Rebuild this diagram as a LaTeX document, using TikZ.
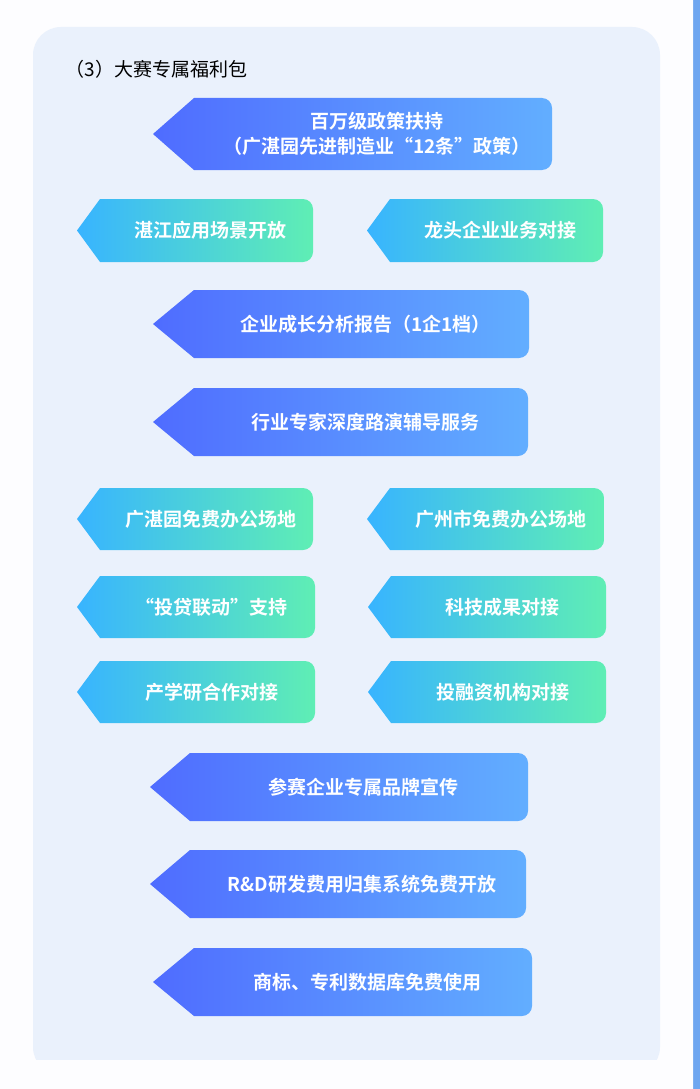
\documentclass[tikz,border=0pt]{standalone}
\usepackage{fontspec}
\setmainfont{Noto Sans CJK SC}
\newfontfamily\cjkbold{Noto Sans CJK SC Bold}
\definecolor{bA}{HTML}{4F6CFF}
\definecolor{bB}{HTML}{62AEFF}
\definecolor{gA}{HTML}{38B4FF}
\definecolor{gB}{HTML}{5FEEB4}
\definecolor{panel}{HTML}{EAF1FC}
\definecolor{edge}{HTML}{6EA6F0}
\tikzset{tagtext/.style={text=white,font=\cjkbold\fontsize{19}{25}\selectfont,align=center}}
% #1 name, #2 tip x, #3 body x, #4 right x, #5 top, #6 bottom, #7 left colour, #8 right colour, #9 text
\newcommand\mytag[9]{%
  \shade[left color=#7,right color=#8]
    (#2,{(#5+#6)/2}) -- (#3,#5) [rounded corners=10] -- (#4,#5) -- (#4,#6) [sharp corners] -- (#3,#6) -- cycle;
  \node[tagtext] (#1) at ({(#3+#4)/2+4},{(#5+#6)/2}) {#9};
}
\begin{document}
\begin{tikzpicture}[x=1pt,y=-1pt]
\useasboundingbox (0,0) rectangle (700,1089);
\fill[edge] (0,0) rectangle (700,1089);
\fill[white!97!blue!20!white, rounded corners=40] (-40,-40) rectangle (693,1089+40);
\fill[panel, rounded corners=28] (33,27) rectangle (660,1075);
\fill[white!97!blue!20!white] (20,1060) rectangle (680,1089);
\node[anchor=west,font=\fontsize{19}{23}\selectfont] (title) at (62,69) {（3）大赛专属福利包};
\mytag{t1}{153}{194}{552}{98}{170}{bA}{bB}{百万级政策扶持\\（广湛园先进制造业“12条”政策）}
\mytag{t2}{77}{100}{313}{199}{262}{gA}{gB}{湛江应用场景开放}
\mytag{t3}{367}{390}{603}{199}{262}{gA}{gB}{龙头企业业务对接}
\mytag{t4}{153}{194}{529}{290}{358}{bA}{bB}{企业成长分析报告（1企1档）}
\mytag{t5}{153}{194}{528}{388}{456}{bA}{bB}{行业专家深度路演辅导服务}
\mytag{t6}{77}{100}{313}{488}{550}{gA}{gB}{广湛园免费办公场地}
\mytag{t7}{367}{390}{604}{488}{550}{gA}{gB}{广州市免费办公场地}
\mytag{t8}{77}{100}{315}{576}{638}{gA}{gB}{“投贷联动”支持}
\mytag{t9}{368}{391}{606}{576}{638}{gA}{gB}{科技成果对接}
\mytag{t10}{77}{100}{315}{661}{723}{gA}{gB}{产学研合作对接}
\mytag{t11}{368}{391}{606}{661}{723}{gA}{gB}{投融资机构对接}
\mytag{t12}{150}{190}{528}{753}{821}{bA}{bB}{参赛企业专属品牌宣传}
\mytag{t13}{150}{190}{526}{850}{918}{bA}{bB}{R\&D研发费用归集系统免费开放}
\mytag{t14}{153}{194}{532}{948}{1016}{bA}{bB}{商标、专利数据库免费使用}
\end{tikzpicture}
\end{document}
